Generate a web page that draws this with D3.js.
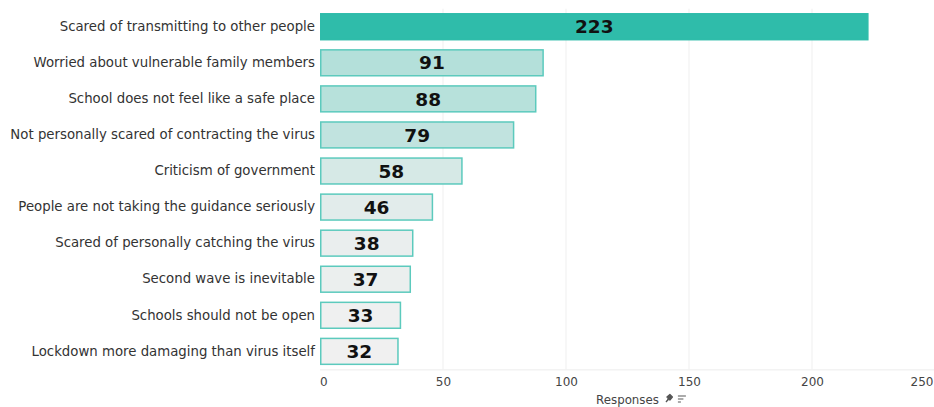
<!DOCTYPE html>
<html><head><meta charset="utf-8">
<script src="https://cdn.jsdelivr.net/npm/d3@7"></script>
<style>
html,body{margin:0;padding:0;background:#fff;}
svg{display:block;font-family:"DejaVu Sans",Verdana,sans-serif;}
</style></head>
<body>
<svg id="chart" width="934" height="407"></svg>
<script>
const categories = [
  "Scared of transmitting to other people",
  "Worried about vulnerable family members",
  "School does not feel like a safe place",
  "Not personally scared of contracting the virus",
  "Criticism of government",
  "People are not taking the guidance seriously",
  "Scared of personally catching the virus",
  "Second wave is inevitable",
  "Schools should not be open",
  "Lockdown more damaging than virus itself"
];
const values = [223, 91, 88, 79, 58, 46, 38, 37, 33, 32];
const tickValues = [0, 50, 100, 150, 200, 250];
const axisTitle = "Responses";

const svg = d3.select("#chart");
const W = 934, H = 407;
const m = {left: 320, top: 8.7, bottom: 37.6};
const x = d3.scaleLinear().domain([0, 250]).range([m.left, m.left + 615]);
const y = d3.scaleBand().domain(categories).range([m.top, H - m.bottom]).paddingInner(0.24).paddingOuter(0.12);
const color = d3.scaleLinear().domain([d3.min(values), d3.max(values)]).range(["#f0f0f0", "#2fbcaa"]).interpolate(d3.interpolateRgb);

const data = categories.map((c, i) => ({c, v: values[i]}));

// gridlines
svg.append("g").selectAll("line").data(tickValues.filter(t => t > 0)).join("line")
  .attr("x1", d => x(d)).attr("x2", d => x(d))
  .attr("y1", m.top).attr("y2", H - m.bottom)
  .attr("stroke", "#efefef").attr("stroke-width", 1);
// baseline
svg.append("line").attr("x1", x(0)).attr("x2", W).attr("y1", H - m.bottom + 0.5).attr("y2", H - m.bottom + 0.5)
  .attr("stroke", "#ececec");

// bars
svg.append("g").selectAll("rect").data(data).join("rect")
  .attr("x", x(0) + 0.75)
  .attr("y", d => y(d.c) + 0.75)
  .attr("width", d => x(d.v) - x(0) - 1.5)
  .attr("height", y.bandwidth() - 1.5)
  .attr("fill", d => color(d.v))
  .attr("stroke", (d, i) => i === 0 ? "#2fbcaa" : "#5ccabd")
  .attr("stroke-width", 1.5);

// value labels
svg.append("g").selectAll("text").data(data).join("text")
  .attr("x", d => (x(0) + x(d.v)) / 2)
  .attr("y", d => y(d.c) + y.bandwidth() / 2)
  .attr("dy", "0.36em")
  .attr("text-anchor", "middle")
  .attr("font-size", 18.5).attr("font-weight", "bold").attr("fill", "#111")
  .text(d => d.v);

// category labels
const yAxis = d3.axisLeft(y).tickSize(0).tickPadding(5);
const gy = svg.append("g").attr("transform", `translate(${x(0)},0)`).call(yAxis);
gy.select(".domain").remove();
gy.selectAll("text").attr("font-size", 13.3).attr("fill", "#333").attr("font-family", "DejaVu Sans, Verdana, sans-serif");

// x axis
const xAxis = d3.axisBottom(x).tickValues(tickValues).tickSize(0).tickPadding(8);
const gx = svg.append("g").attr("transform", `translate(0,${H - m.bottom})`).call(xAxis);
gx.select(".domain").remove();
gx.selectAll("text").attr("font-size", 12).attr("fill", "#444").attr("font-family", "DejaVu Sans, Verdana, sans-serif");
gx.selectAll("text").filter(d => d === 0).attr("text-anchor", "start").attr("dx", -0.5);
gx.selectAll("text").filter(d => d === 250).attr("text-anchor", "end").attr("dx", -1 - (x(250) - W));

// axis title with icons
const tx = (x(0) + x(250)) / 2;
const title = svg.append("text").attr("x", tx).attr("y", 404).attr("text-anchor", "middle")
  .attr("font-size", 11.8).attr("fill", "#444").text(axisTitle);
const tw = title.node().getComputedTextLength();
const ix = tx + tw / 2 + 5;
// pin icon
svg.append("path")
  .attr("d", `M${ix+2},${402} L${ix+5},${399} L${ix+3},${397} L${ix+6},${394.5} L${ix+8.5},${397} L${ix+6},${400} L${ix+4},${398}`)
  .attr("fill", "#555").attr("stroke", "#555").attr("stroke-width", 1.2).attr("stroke-linejoin", "round");
// sort icon
const sx = ix + 14;
[[0, 8], [0, 5.5], [0, 3]].forEach((s, i) => {
  svg.append("line").attr("x1", sx).attr("x2", sx + s[1]).attr("y1", 396 + i * 3).attr("y2", 396 + i * 3)
    .attr("stroke", "#666").attr("stroke-width", 1.1);
});
</script>
</body></html>
